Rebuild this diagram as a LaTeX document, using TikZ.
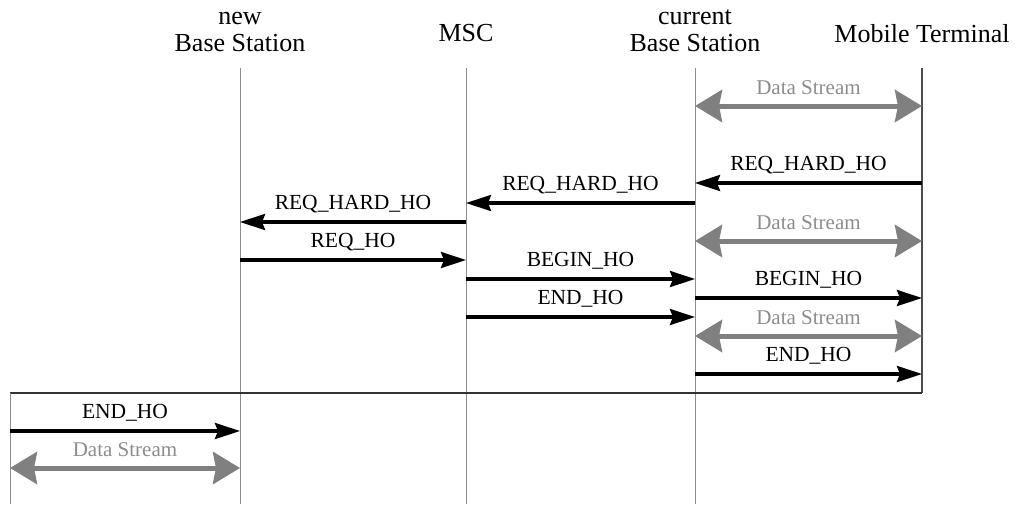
\documentclass[tikz,border=0pt]{standalone}
\usepackage{fontspec}
\setmainfont{Liberation Serif}
\usetikzlibrary{arrows.meta}
\begin{document}
\begin{tikzpicture}[x=1pt,y=-1pt,
  hdr/.style={font=\fontsize{26}{30}\selectfont, anchor=base, inner sep=0pt},
  lbl/.style={font=\fontsize{21.5}{25}\selectfont, anchor=base, inner sep=0pt},
  dlbl/.style={font=\fontsize{21}{25}\selectfont, anchor=base, inner sep=0pt, text=black!45},
  life/.style={draw=black!45, line width=1pt},
  msg/.style={line width=3.5pt, -{Stealth[length=25pt,width=16pt,inset=3pt]}},
  ds/.style={line width=5pt, draw=black!50, fill=black!50,
    {Stealth[length=27pt,width=32pt,inset=3pt]}-{Stealth[length=27pt,width=32pt,inset=3pt]}},
]
\useasboundingbox (0,0) rectangle (1018,504);
% headers
\node[hdr] (nbA) at (240,24) {new};
\node[hdr] (nbB) at (240,51) {Base Station};
\node[hdr] (mscA) at (466,41) {MSC};
\node[hdr] (curA) at (695,24) {current};
\node[hdr] (curB) at (695,51) {Base Station};
\node[hdr] (mtA) at (922,42) {Mobile Terminal};
% lifelines
\coordinate (nb) at (240,68);
\coordinate (msc) at (466,68);
\coordinate (cur) at (695,68);
\coordinate (mt) at (922,68);
\coordinate (lb) at (10,393);
\coordinate (nbE) at (240,504);
\coordinate (mscE) at (466,504);
\coordinate (curE) at (695,504);
\coordinate (mtE) at (922,393);
\coordinate (lbE) at (10,504);
\draw[life] (nb) -- (nbE);
\draw[life] (msc) -- (mscE);
\draw[life] (cur) -- (curE);
\draw[draw=black!70, line width=1.5pt] (mt) -- (mtE);
\draw[draw=black!80, line width=1.5pt] (lb) -- (mtE);
\draw[life] (lb) -- (lbE);
% data streams
\draw[ds] (cur |- 0,106) -- (mt |- 0,106) node[dlbl, midway, yshift=12pt] {Data Stream};
\draw[ds] (cur |- 0,241) -- (mt |- 0,241) node[dlbl, midway, yshift=12pt] {Data Stream};
\draw[ds] (cur |- 0,336) -- (mt |- 0,336) node[dlbl, midway, yshift=12pt] {Data Stream};
\draw[ds] (lb |- 0,468) -- (nb |- 0,468) node[dlbl, midway, yshift=12pt] {Data Stream};
% messages
\draw[msg] (mt |- 0,183) -- (cur |- 0,183) node[lbl, midway, yshift=13pt] {REQ\_HARD\_HO};
\draw[msg] (cur |- 0,203) -- (msc |- 0,203) node[lbl, midway, yshift=13pt] {REQ\_HARD\_HO};
\draw[msg] (msc |- 0,222) -- (nb |- 0,222) node[lbl, midway, yshift=13pt] {REQ\_HARD\_HO};
\draw[msg] (nb |- 0,260) -- (msc |- 0,260) node[lbl, midway, yshift=13pt] {REQ\_HO};
\draw[msg] (msc |- 0,279) -- (cur |- 0,279) node[lbl, midway, yshift=13pt] {BEGIN\_HO};
\draw[msg] (cur |- 0,298) -- (mt |- 0,298) node[lbl, midway, yshift=13pt] {BEGIN\_HO};
\draw[msg] (msc |- 0,317) -- (cur |- 0,317) node[lbl, midway, yshift=13pt] {END\_HO};
\draw[msg] (cur |- 0,374) -- (mt |- 0,374) node[lbl, midway, yshift=13pt] {END\_HO};
\draw[msg] (lb |- 0,431) -- (nb |- 0,431) node[lbl, midway, yshift=13pt] {END\_HO};
\end{tikzpicture}
\end{document}
